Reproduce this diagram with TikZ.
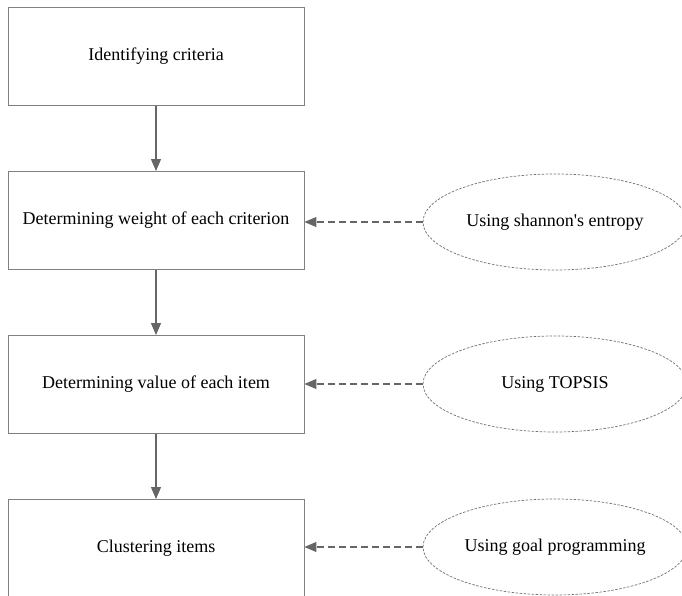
\documentclass[tikz,border=0pt]{standalone}
\usepackage{fontspec}
\setmainfont{Liberation Serif}[Ligatures=TeXOff]
\usetikzlibrary{arrows.meta,shapes.geometric}
\definecolor{boxline}{HTML}{808080}
\definecolor{arrowcol}{HTML}{666666}
\definecolor{ellline}{HTML}{707070}
\tikzset{
  stepbox/.style={draw=boxline, line width=0.9pt, minimum width=296pt, minimum height=98pt, inner sep=0pt, font=\fontsize{18}{21}\selectfont},
  toolell/.style={draw=ellline, dash pattern=on 2.5pt off 1.5pt, line width=0.7pt, ellipse, minimum width=264pt, minimum height=96pt, inner sep=0pt, font=\fontsize{18}{21}\selectfont},
  flow/.style={draw=arrowcol, line width=1.1pt, -{Triangle[length=12pt,width=10pt]}},
  feed/.style={draw=arrowcol, line width=1.1pt, dash pattern=on 7pt off 4pt, -{Triangle[length=12pt,width=10pt]}}
}
\begin{document}
\begin{tikzpicture}[x=1pt,y=-1pt]
\useasboundingbox (0,0) rectangle (682,596);
\clip (0,0) rectangle (682,596);
\node[stepbox] (b1) at (156,56.5) {Identifying criteria};
\node[stepbox] (b2) at (156,220.5) {Determining weight of each criterion};
\node[stepbox] (b3) at (156,384.5) {Determining value of each item};
\node[stepbox] (b4) at (156,548.5) {Clustering items};
\node[toolell] (e1) at (555,222) {Using shannon's entropy};
\node[toolell] (e2) at (555,384) {Using TOPSIS};
\node[toolell] (e3) at (555,547) {Using goal programming};
\draw[flow] (b1) -- (b2);
\draw[flow] (b2) -- (b3);
\draw[flow] (b3) -- (b4);
\draw[feed] (e1.west) -- (e1.west -| b2.east);
\draw[feed] (e2.west) -- (e2.west -| b3.east);
\draw[feed] (e3.west) -- (e3.west -| b4.east);
\end{tikzpicture}
\end{document}
